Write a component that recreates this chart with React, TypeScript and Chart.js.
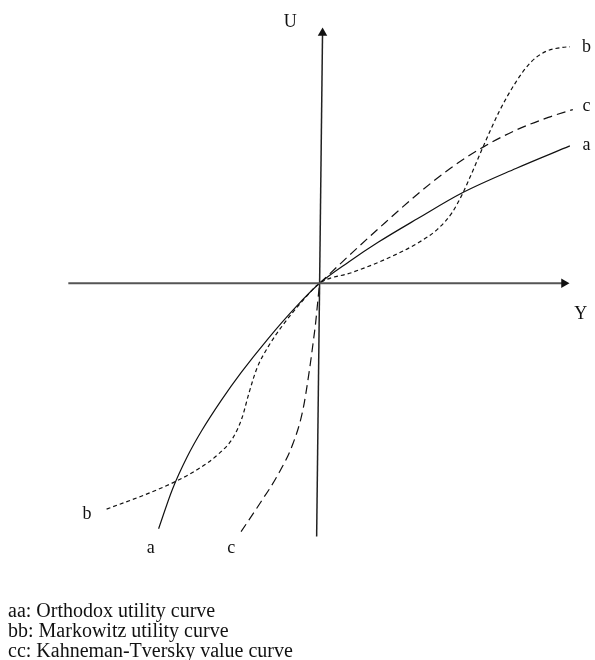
import React, { useEffect, useRef } from 'react';
import { Chart, registerables } from 'chart.js';

Chart.register(...registerables);

// Curve aa: orthodox utility curve (origin-relative units)
const aaX = [-164, -150, -135, -120, -100, -80, -53, -25, 0, 30, 60, 100, 145, 200, 255];
const aaY = [-250, -210, -177, -150, -119, -91, -57, -25, 0, 22, 42, 66, 92, 117, 140];

// Curve bb: Markowitz utility curve
const bbX = [-217, -177, -147, -125, -102, -88, -79, -72, -64, -52, -37, -20, 0, 33, 66, 100, 120, 135, 145, 155, 167, 183, 200, 215, 230, 245, 255];
const bbY = [-230, -215, -202, -190, -173, -157, -137, -112, -87, -64, -42, -21, 0, 11, 24, 41, 55, 72, 90, 112, 140, 175, 205, 225, 236, 240, 241];

// Curve cc: Kahneman-Tversky value curve
const ccX = [-80, -60, -43, -27, -17, -10, -6.5, -4, -2, 0, 33, 67, 100, 133, 167, 200, 233, 258];
const ccY = [-253, -223, -196, -163, -129, -86, -60, -40, -20, 0, 31, 62, 91, 117, 139, 156, 169, 177];

// Axes (U vertical, Y horizontal)
const uAxisX = [-3, 3];
const uAxisY = [-258, 255];
const yAxisX = [-256, 249];
const yAxisY = [0, 0];

// Text labels
const labelTexts = ['U', 'Y', 'b', 'c', 'a', 'b', 'a', 'c'];
const labelX = [-30, 266, 272, 272, 272, -237, -172, -90];
const labelY = [266, -32, 240, 180, 141, -235, -270, -270];

const legendLines = [
  'aa: Orthodox utility curve',
  'bb: Markowitz utility curve',
  'cc: Kahneman-Tversky value curve',
];

const pts = (xs: number[], ys: number[]) => xs.map((x, i) => ({ x, y: ys[i] }));
const losses = (xs: number[], ys: number[]) => pts(xs, ys).filter((p) => p.x <= 0);
const gains = (xs: number[], ys: number[]) => pts(xs, ys).filter((p) => p.x >= 0);

const labelPlugin = {
  id: 'curveLabels',
  afterDatasetsDraw(chart: any) {
    const { ctx, scales } = chart;
    ctx.save();
    ctx.fillStyle = '#111';
    ctx.font = '18px "Liberation Serif", "Times New Roman", serif';
    ctx.textAlign = 'center';
    ctx.textBaseline = 'middle';
    labelTexts.forEach((t, i) => {
      ctx.fillText(t, scales.x.getPixelForValue(labelX[i]), scales.y.getPixelForValue(labelY[i]));
    });
    ctx.restore();
  },
};

const curve = (data: any[], dash: number[]) => ({
  data,
  borderColor: '#111',
  borderWidth: 1.2,
  borderDash: dash,
  pointRadius: 0,
  cubicInterpolationMode: 'monotone',
});

export default function App() {
  const ref = useRef<HTMLCanvasElement | null>(null);
  useEffect(() => {
    if (!ref.current) return;
    const chart = new Chart(ref.current, {
      type: 'line',
      data: {
        datasets: [
          {
            data: pts(yAxisX, yAxisY),
            borderColor: '#555',
            backgroundColor: '#111',
            borderWidth: 2,
            pointRadius: [0, 5.5],
            pointStyle: 'triangle',
            pointRotation: [0, 90],
            pointBorderWidth: 0,
          },
          {
            data: pts(uAxisX, uAxisY),
            borderColor: '#222',
            backgroundColor: '#111',
            borderWidth: 1.5,
            pointRadius: [0, 5.5],
            pointStyle: 'triangle',
            pointRotation: [0, 0.66],
            pointBorderWidth: 0,
          },
          curve(pts(aaX, aaY), []),
          curve(pts(bbX, bbY), [4, 3]),
          curve(losses(ccX, ccY), [9, 5]),
          curve(gains(ccX, ccY), [9, 5]),
        ],
      },
      options: {
        responsive: false,
        animation: false,
        events: [],
        layout: { padding: 0 },
        plugins: { legend: { display: false }, tooltip: { enabled: false } },
        scales: {
          x: { type: 'linear', display: false, min: -320, max: 275 },
          y: { type: 'linear', display: false, min: -317, max: 283 },
        },
      },
      plugins: [labelPlugin],
    } as any);
    return () => chart.destroy();
  }, []);

  return (
    <div style={{ position: 'absolute', left: 0, top: 0, width: 595, height: 660, background: '#fff' }}>
      <canvas ref={ref} width={595} height={600} style={{ display: 'block' }} />
      <div
        style={{
          position: 'absolute',
          left: 8,
          top: 600,
          fontFamily: '"Liberation Serif", "Times New Roman", serif',
          fontSize: 20,
          lineHeight: '20px',
          color: '#111',
        }}
      >
        {legendLines.map((l, i) => (
          <div key={i}>{l}</div>
        ))}
      </div>
    </div>
  );
}
